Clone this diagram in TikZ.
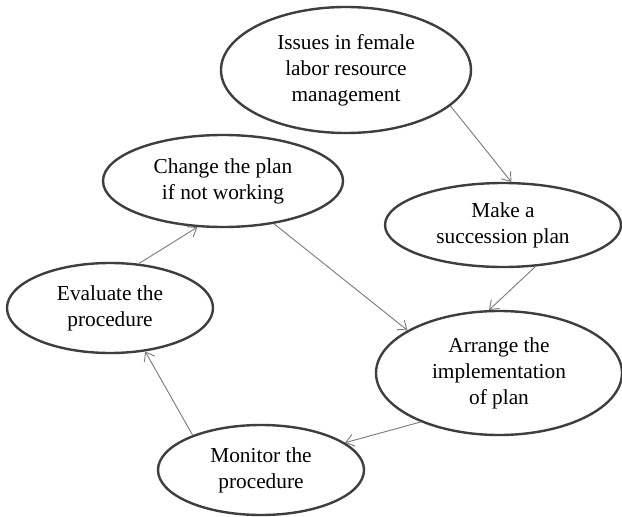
\documentclass[tikz,border=0pt]{standalone}
\usepackage{fontspec}
\setmainfont{Liberation Serif}
\usepackage{xcolor}
\usetikzlibrary{arrows.meta,shapes.geometric}
\definecolor{ringgray}{RGB}{62,62,62}
\definecolor{linkgray}{RGB}{125,125,125}
\tikzset{
	stage/.style={ellipse, draw=ringgray, line width=1.8pt, inner sep=0pt, align=center, font=\fontsize{16}{19.5}\selectfont},
	flow/.style={draw=linkgray, line width=0.7pt, -{Straight Barb[length=6pt,width=9pt]}}
}

\begin{document}
\begin{tikzpicture}[x=0.75pt,y=-0.75pt]
	\useasboundingbox (0,0) rectangle (622,517);
	\node [stage, minimum width=187.5pt, minimum height=94.5pt] (issues) at (346,70) {Issues in female\\labor resource\\management};
	\node [stage, minimum width=177pt, minimum height=63pt] (succession) at (503,225) {Make a\\succession plan};
	\node [stage, minimum width=184.5pt, minimum height=93pt] (arrange) at (499,373) {Arrange the\\implementation\\of plan};
	\node [stage, minimum width=180pt, minimum height=69pt] (change) at (223,181) {Change the plan\\if not working};
	\node [stage, minimum width=154.5pt, minimum height=67.5pt] (evaluate) at (110,308) {Evaluate the\\procedure};
	\node [stage, minimum width=154.5pt, minimum height=67.5pt] (monitor) at (261,470) {Monitor the\\procedure};
	\draw [flow] (issues.-19) -- (succession.79);
	\draw [flow] (succession.-52) -- (arrange.99);
	\draw [flow] (change.-40) -- (arrange.155);
	\draw [flow] (arrange.212) -- (monitor.18);
	\draw [flow] (monitor.153) -- (evaluate.-51);
	\draw [flow] (evaluate.57) -- (change.-119);
\end{tikzpicture}
\end{document}
